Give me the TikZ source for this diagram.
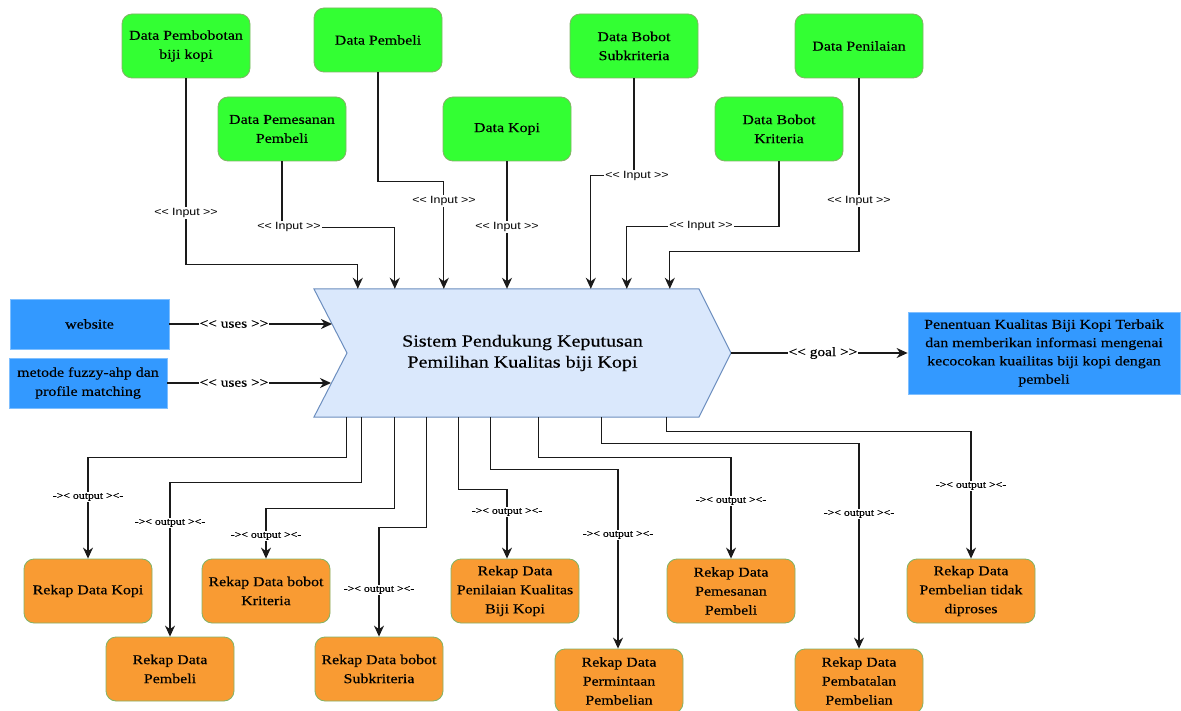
\documentclass[tikz,border=0pt]{standalone}
\usepackage{fontspec}
\setmainfont{Liberation Serif}[FakeStretch=1.18, FakeBold=0.35]
\setsansfont{Liberation Sans}[FakeStretch=1.18]
\usetikzlibrary{arrows.meta}

\definecolor{inGreen}{HTML}{33FF33}
\definecolor{inGreenLine}{HTML}{82B366}
\definecolor{outOrange}{HTML}{F99B33}
\definecolor{toolBlue}{HTML}{3399FF}
\definecolor{toolBlueLine}{HTML}{7FBFFF}
\definecolor{sysFill}{HTML}{DAE8FC}
\definecolor{sysLine}{HTML}{6C8EBF}
\definecolor{wireCol}{HTML}{1A1A1A}

% stereotype brackets, kept apart so they are not merged into guillemets
\newcommand{\stIn}{<{}<~}
\newcommand{\stOut}{~>{}>}

\begin{document}
\begin{tikzpicture}[x=1pt,y=-1pt,
  databox/.style={draw=inGreenLine, fill=inGreen, rounded corners=10pt,
    minimum width=128pt, minimum height=64pt, align=center, inner sep=2pt,
    line width=0.8pt, font=\fontsize{13.5}{19}\selectfont},
  rekapbox/.style={databox, fill=outOrange},
  toolbox/.style={draw=toolBlueLine, fill=toolBlue, align=center, inner sep=2pt,
    line width=0.8pt, font=\fontsize{13.5}{19}\selectfont},
  wire/.style={draw=wireCol, line width=1.3pt},
  arr/.style={wire, -{Stealth[length=11pt,width=10pt,inset=3.5pt]}},
  inlbl/.style={fill=white, inner sep=1pt, font=\sffamily\fontsize{10.5}{12}\selectfont},
  outlbl/.style={fill=white, inner sep=1pt, font=\fontsize{10}{11}\selectfont},
  uselbl/.style={fill=white, inner sep=1pt, font=\fontsize{13}{15}\selectfont},
]
\useasboundingbox (0,0) rectangle (1181,711);
\fill[white] (0,0) rectangle (1181,711);

% ---- input data stores ----
\node[databox] (gPbb)  at (186,46)  {Data Pembobotan\\biji kopi};
\node[databox] (gPbl)  at (378,40)  {Data Pembeli};
\node[databox] (gPms)  at (282,129) {Data Pemesanan\\Pembeli};
\node[databox] (gKopi) at (507,129) {Data Kopi};
\node[databox] (gSub)  at (634,46)  {Data Bobot\\Subkriteria};
\node[databox] (gKrit) at (779,129) {Data Bobot\\Kriteria};
\node[databox] (gNil)  at (859,46)  {Data Penilaian};

% ---- central system (chevron) ----
\draw[fill=sysFill, draw=sysLine, line width=1pt]
  (314,289) -- (699,289) -- (731,353) -- (699,417) -- (314,417) -- (347,353) -- cycle;
\node[minimum width=417pt, minimum height=128pt, inner sep=0pt, align=center,
      font=\fontsize{17}{21}\selectfont] (sys) at (522.5,353)
  {Sistem Pendukung Keputusan\\Pemilihan Kualitas biji Kopi};

% ---- supporting tools and goal ----
\node[toolbox, minimum width=159pt, minimum height=50pt] (web)  at (89.5,324) {website};
\node[toolbox, minimum width=158pt, minimum height=50pt] (meth) at (88,383)
  {metode fuzzy-ahp dan\\profile matching};
\node[toolbox, minimum width=272pt, minimum height=82pt,
      font=\fontsize{13.5}{18.3}\selectfont] (goal) at (1044,353)
  {Penentuan Kualitas Biji Kopi Terbaik\\dan memberikan informasi mengenai\\kecocokan kuailitas biji kopi dengan\\pembeli};

% ---- output reports ----
\node[rekapbox] (oKopi)  at (88,591)  {Rekap Data Kopi};
\node[rekapbox] (oPbl)   at (170,669) {Rekap Data\\Pembeli};
\node[rekapbox] (oKrit)  at (266,591) {Rekap Data bobot\\Kriteria};
\node[rekapbox] (oSub)   at (379,669) {Rekap Data bobot\\Subkriteria};
\node[rekapbox] (oNil)   at (515,591) {Rekap Data\\Penilaian Kualitas\\Biji Kopi};
\node[rekapbox] (oMinta) at (619,681) {Rekap Data\\Permintaan\\Pembelian};
\node[rekapbox] (oPms)   at (731,591) {Rekap Data\\Pemesanan\\Pembeli};
\node[rekapbox] (oBatal) at (859,681) {Rekap Data\\Pembatalan\\Pembelian};
\node[rekapbox] (oTidak) at (971,591) {Rekap Data\\Pembelian tidak\\diproses};

% ---- input connectors ----
\draw[arr] (gPbb.south)  -- ++(0,186) -| ([xshift=44]sys.north west);
\draw[arr] (gPms.south)  -- ++(0,66)  -| ([xshift=81]sys.north west);
\draw[arr] (gPbl.south)  -- ++(0,109) -| ([xshift=130]sys.north west);
\draw[arr] (gKopi.south) -- (gKopi.south |- sys.north);
\draw[arr] (gSub.south)  -- ++(0,97)  -| ([xshift=277]sys.north west);
\draw[arr] (gKrit.south) -- ++(0,65)  -| ([xshift=313]sys.north west);
\draw[arr] (gNil.south)  -- ++(0,173) -| ([xshift=356]sys.north west);

\node[inlbl] (lIn1) at (186,213) {\stIn Input\stOut};
\node[inlbl] (lIn2) at (289,227) {\stIn Input\stOut};
\node[inlbl] (lIn3) at (444,201) {\stIn Input\stOut};
\node[inlbl] (lIn4) at (507,227) {\stIn Input\stOut};
\node[inlbl] (lIn5) at (637,176) {\stIn Input\stOut};
\node[inlbl] (lIn6) at (701,226) {\stIn Input\stOut};
\node[inlbl] (lIn7) at (859,201) {\stIn Input\stOut};

% ---- uses / goal connectors ----
\coordinate (webIn)  at (332,324);
\coordinate (methIn) at (331,383);
\draw[arr] (web.east)  -- (webIn);
\draw[arr] (meth.east) -- (methIn);
\draw[arr] (sys.east)  -- (goal.west);
\node[uselbl] (lUse1) at (234,324) {\stIn uses\stOut};
\node[uselbl] (lUse2) at (234,383) {\stIn uses\stOut};
\node[uselbl] (lGoal) at (823,353) {\stIn goal\stOut};

% ---- output connectors ----
\draw[arr] ([xshift=33]sys.south west)  -- ++(0,40) -| (oKopi.north);
\draw[arr] ([xshift=48]sys.south west)  -- ++(0,65) -| (oPbl.north);
\draw[arr] ([xshift=81]sys.south west)  -- ++(0,91) -| (oKrit.north);
\draw[arr] ([xshift=113]sys.south west) -- ++(0,110) -| (oSub.north);
\draw[arr] ([xshift=145]sys.south west) -- ++(0,72) -| ([xshift=-8]oNil.north);
\draw[arr] ([xshift=177]sys.south west) -- ++(0,52) -| ([xshift=-1]oMinta.north);
\draw[arr] ([xshift=225]sys.south west) -- ++(0,40) -| (oPms.north);
\draw[arr] ([xshift=288]sys.south west) -- ++(0,26) -| (oBatal.north);
\draw[arr] ([xshift=353]sys.south west) -- ++(0,14) -| (oTidak.north);

\node[outlbl] (lOut1) at (88,497)  {-><{} output >{}<-};
\node[outlbl] (lOut2) at (170,523) {-><{} output >{}<-};
\node[outlbl] (lOut3) at (266,536) {-><{} output >{}<-};
\node[outlbl] (lOut4) at (379,590) {-><{} output >{}<-};
\node[outlbl] (lOut5) at (507,512) {-><{} output >{}<-};
\node[outlbl] (lOut6) at (618,535) {-><{} output >{}<-};
\node[outlbl] (lOut7) at (731,501) {-><{} output >{}<-};
\node[outlbl] (lOut8) at (859,514) {-><{} output >{}<-};
\node[outlbl] (lOut9) at (971,486) {-><{} output >{}<-};
\end{tikzpicture}
\end{document}
